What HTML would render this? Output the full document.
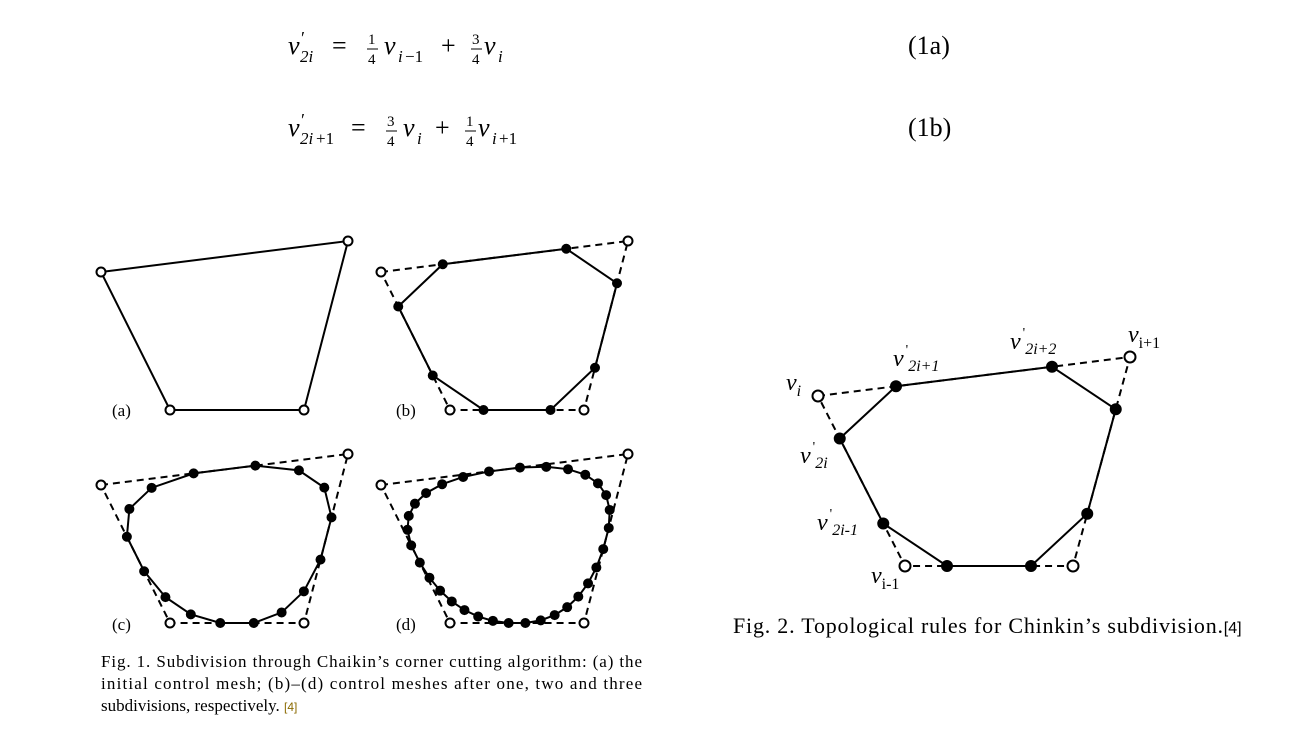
<!DOCTYPE html>
<html><head><meta charset="utf-8"><style>
body{margin:0;background:#fff;width:1311px;height:742px;overflow:hidden;font-family:"Liberation Serif",serif;}
svg{position:absolute;left:0;top:0}
</style></head><body>
<svg id="s" width="1311" height="742" font-family="Liberation Serif, serif">
<g font-size="26" font-style="italic">
<text x="288" y="54">v</text><text x="301" y="44" font-size="18" font-style="normal">′</text><text x="300" y="62" font-size="17">2i</text>
<text x="332" y="54" font-style="normal">=</text>
<text x="368" y="44" font-size="15" font-style="normal">1</text><line x1="367" y1="49" x2="378" y2="49" stroke="#000"/><text x="368" y="64" font-size="15" font-style="normal">4</text>
<text x="384" y="54">v</text><text x="398" y="62" font-size="17">i</text><text x="405" y="62" font-size="17" font-style="normal">−1</text>
<text x="441" y="54" font-style="normal">+</text>
<text x="472" y="44" font-size="15" font-style="normal">3</text><line x1="471" y1="49" x2="482" y2="49" stroke="#000"/><text x="472" y="64" font-size="15" font-style="normal">4</text>
<text x="484" y="54">v</text><text x="498" y="62" font-size="17">i</text>
</g>
<text x="908" y="54" font-size="26">(1a)</text>
<g font-size="26" font-style="italic">
<text x="288" y="136">v</text><text x="301" y="126" font-size="18" font-style="normal">′</text><text x="300" y="144" font-size="17">2i</text><text x="316" y="144" font-size="17" font-style="normal">+1</text>
<text x="351" y="136" font-style="normal">=</text>
<text x="387" y="126" font-size="15" font-style="normal">3</text><line x1="386" y1="131" x2="397" y2="131" stroke="#000"/><text x="387" y="146" font-size="15" font-style="normal">4</text>
<text x="403" y="136">v</text><text x="417" y="144" font-size="17">i</text>
<text x="435" y="136" font-style="normal">+</text>
<text x="466" y="126" font-size="15" font-style="normal">1</text><line x1="465" y1="131" x2="476" y2="131" stroke="#000"/><text x="466" y="146" font-size="15" font-style="normal">4</text>
<text x="478" y="136">v</text><text x="492" y="144" font-size="17">i</text><text x="499" y="144" font-size="17" font-style="normal">+1</text>
</g>
<text x="908" y="136" font-size="26">(1b)</text>
<g font-size="17">
<text x="112" y="416">(a)</text><text x="396" y="416">(b)</text><text x="112" y="630">(c)</text><text x="396" y="630">(d)</text>
</g>
<g font-size="17">
<text x="101" y="667" textLength="541" lengthAdjust="spacing">Fig. 1. Subdivision through Chaikin’s corner cutting algorithm: (a) the</text>
<text x="101" y="689" textLength="541" lengthAdjust="spacing">initial control mesh; (b)–(d) control meshes after one, two and three</text>
<text x="101" y="711">subdivisions, respectively. <tspan font-family="Liberation Sans, sans-serif" font-size="12" fill="#8a6a00">[4]</tspan></text>
</g>
<text x="733" y="633" font-size="22"><tspan textLength="490" lengthAdjust="spacing">Fig. 2. Topological rules for Chinkin’s subdivision.</tspan><tspan font-family="Liberation Sans, sans-serif" font-size="16">[4]</tspan></text>
<g font-size="24" font-style="italic">
<text x="786" y="390">v<tspan font-size="16" dy="6">i</tspan></text>
<text x="1128" y="342">v<tspan font-size="16" font-style="normal" dy="6">i+1</tspan></text>
<text x="893" y="366">v<tspan font-size="14" font-style="normal" dx="2" dy="-12">'</tspan><tspan font-size="16" dy="17">2i+1</tspan></text>
<text x="1010" y="349">v<tspan font-size="14" font-style="normal" dx="2" dy="-12">'</tspan><tspan font-size="16" dy="17">2i+2</tspan></text>
<text x="800" y="463">v<tspan font-size="14" font-style="normal" dx="2" dy="-12">'</tspan><tspan font-size="16" dy="17">2i</tspan></text>
<text x="817" y="530">v<tspan font-size="14" font-style="normal" dx="2" dy="-12">'</tspan><tspan font-size="16" dy="17">2i-1</tspan></text>
<text x="871" y="583">v<tspan font-size="16" font-style="normal" dy="6">i-1</tspan></text>
</g>
</svg>
<script>
const panelNames=['a','b','c','d'];
const panelLevels=[0,1,2,3];
const ctrlX=[101,348,304,170];
const ctrlY=[272,241,410,410];
const panelDX=[0,280,0,280];
const panelDY=[0,0,213,213];
const fig2X=[818,1130,1073,905];
const fig2Y=[396,357,566,566];
const NS='http://www.w3.org/2000/svg';
const svg=document.getElementById('s');
function chaikin(pts){const o=[];for(let i=0;i<pts.length;i++){const a=pts[i],b=pts[(i+1)%pts.length];o.push([.75*a[0]+.25*b[0],.75*a[1]+.25*b[1]]);o.push([.25*a[0]+.75*b[0],.25*a[1]+.75*b[1]]);}return o;}
function poly(pts,dash,name){const p=document.createElementNS(NS,'polygon');p.setAttribute('points',pts.map(q=>q.join(',')).join(' '));p.setAttribute('fill','none');p.setAttribute('stroke','#000');p.setAttribute('stroke-width','2');if(dash)p.setAttribute('stroke-dasharray','7,5');


svg.appendChild(p);}
function dot(q,r,open,name){const c=document.createElementNS(NS,'circle');c.setAttribute('cx',q[0]);c.setAttribute('cy',q[1]);c.setAttribute('r',r);c.setAttribute('fill',open?'#fff':'#000');c.setAttribute('stroke','#000');c.setAttribute('stroke-width','2');


svg.appendChild(c);}
function draw(base,level,r1,r2,prefix){let pts=base;for(let k=0;k<level;k++)pts=chaikin(pts);
if(level>0)poly(base,true,prefix+'-control-polygon');
poly(pts,false,prefix+(level>0?'-subdivided-curve':'-control-polygon'));
if(level>0)pts.forEach(q=>dot(q,r1,false,prefix+'-vertex'));
base.forEach(q=>dot(q,r2,true,prefix+'-control-point'));}
panelNames.forEach((n,i)=>{const base=ctrlX.map((x,j)=>[x+panelDX[i],ctrlY[j]+panelDY[i]]);draw(base,panelLevels[i],4,4.5,'panel-'+n);});
draw(fig2X.map((x,j)=>[x,fig2Y[j]]),1,5,5.5,'fig2');
</script>
</body></html>
